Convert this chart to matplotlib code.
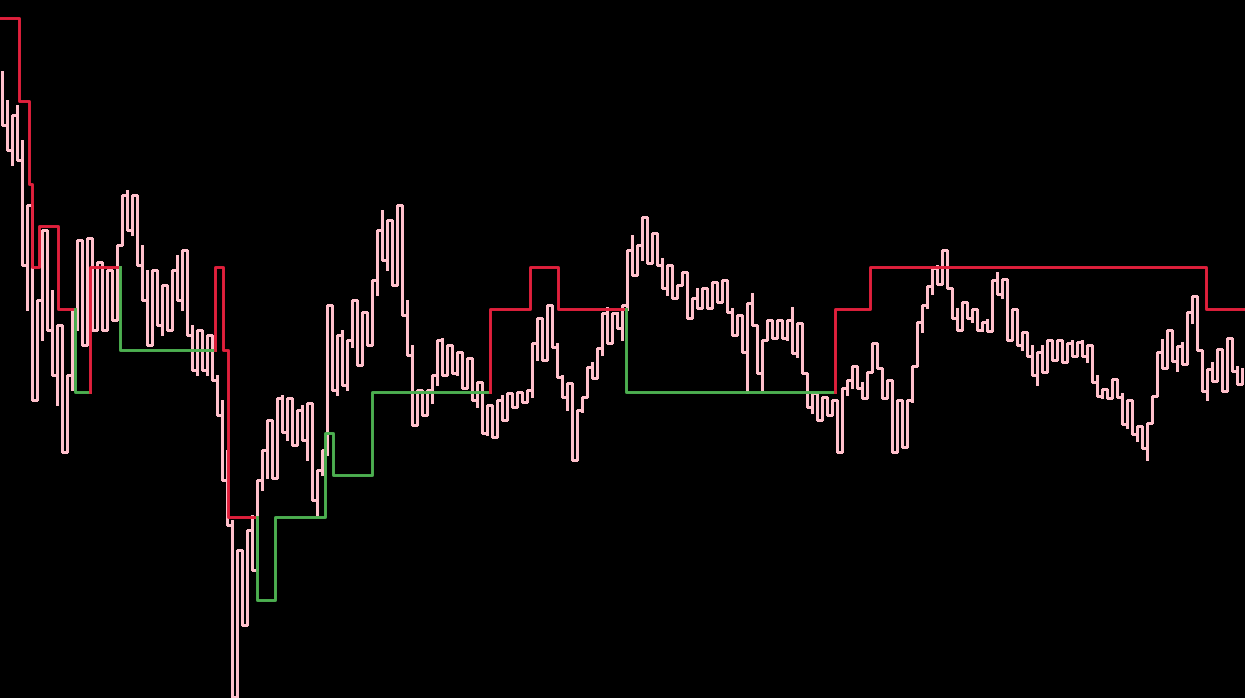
import numpy as np
import matplotlib
matplotlib.use("Agg")
import matplotlib.pyplot as plt

# bar ranges (value axis runs top-down)
bar_top = [72, 100, 115, 105, 140, 205, 300, 300, 230, 245,
           290, 325, 370, 375, 310, 240, 250, 238, 250, 262,
           265, 270, 275, 245, 195, 190, 195, 225, 245, 270,
           270, 275, 285, 290, 270, 255, 250, 290, 325, 330,
           330, 335, 335, 375, 400, 450, 520, 550, 553, 530,
           515, 480, 450, 420, 435, 398, 395, 398, 405, 410,
           405, 403, 455, 470, 450, 305, 330, 335, 330, 340,
           300, 335, 312, 315, 280, 230, 210, 220, 235, 205,
           245, 300, 345, 390, 392, 390, 375, 340, 338, 345,
           350, 352, 360, 358, 360, 382, 400, 405, 410, 400,
           395, 393, 393, 392, 393, 390, 343, 318, 335, 305,
           315, 343, 375, 383, 420, 410, 397, 367, 362, 348,
           313, 307, 313, 312, 305, 250, 235, 245, 217, 238,
           233, 240, 258, 265, 275, 285, 272, 298, 298, 288,
           288, 288, 282, 286, 280, 298, 308, 315, 322, 303,
           293, 337, 340, 320, 322, 320, 322, 320, 307, 323,
           340, 383, 393, 393, 397, 400, 400, 403, 388, 380,
           366, 368, 382, 372, 343, 352, 378, 380, 393, 400,
           418, 400, 366, 322, 305, 286, 268, 265, 250, 276,
           290, 308, 302, 302, 309, 312, 322, 319, 280, 272,
           279, 302, 309, 326, 332, 340, 345, 352, 345, 340,
           342, 340, 345, 343, 340, 342, 340, 345, 358, 375,
           389, 389, 379, 380, 393, 400, 419, 426, 432, 423,
           396, 352, 339, 330, 342, 346, 342, 312, 296, 318,
           356, 369, 362, 349, 369, 338, 356, 366, 369]
bar_bot = [125, 150, 165, 160, 265, 310, 400, 385, 340, 330,
           375, 405, 452, 420, 390, 330, 345, 310, 330, 310,
           330, 320, 320, 290, 245, 230, 235, 265, 300, 345,
           310, 325, 335, 330, 315, 300, 310, 335, 370, 375,
           370, 375, 380, 415, 480, 525, 697, 665, 625, 590,
           570, 525, 490, 478, 478, 440, 432, 440, 445, 432,
           440, 460, 500, 515, 475, 455, 390, 395, 385, 390,
           347, 365, 350, 345, 345, 295, 260, 270, 285, 265,
           315, 355, 425, 425, 415, 412, 403, 385, 375, 372,
           373, 375, 388, 385, 400, 407, 433, 435, 437, 425,
           420, 415, 407, 405, 402, 400, 397, 360, 360, 343,
           347, 377, 397, 410, 460, 445, 412, 395, 378, 370,
           355, 343, 337, 328, 340, 310, 275, 270, 260, 263,
           260, 265, 288, 295, 298, 298, 285, 318, 308, 308,
           298, 308, 305, 302, 302, 312, 335, 332, 352, 393,
           325, 373, 390, 335, 338, 332, 338, 340, 353, 357,
           373, 407, 413, 420, 412, 415, 412, 452, 402, 395,
           388, 388, 398, 392, 368, 368, 398, 395, 452, 440,
           447, 422, 402, 352, 332, 308, 294, 284, 281, 288,
           318, 330, 315, 318, 322, 330, 331, 331, 308, 294,
           298, 340, 332, 345, 350, 356, 375, 385, 372, 362,
           360, 358, 362, 358, 356, 354, 356, 362, 382, 396,
           398, 398, 394, 397, 424, 428, 434, 441, 448, 460,
           421, 381, 368, 358, 361, 371, 364, 364, 323, 350,
           391, 400, 381, 374, 391, 381, 371, 384, 384]

# stepped trailing level: start (in bars), level, trend side
lvl_start = [0, 3.9, 5.9, 6.5, 7.9, 11.7, 15.0, 18.1, 24.0, 43.0,
             44.6, 45.7, 51.5, 55.0, 65.1, 66.7, 74.5, 98.1, 106.1, 111.7,
             125.3, 167.0, 174.1, 241.3]
lvl_value = [18, 101, 184, 267, 226, 309, 392, 267, 350, 267,
             350, 517, 600, 517, 433, 475, 392, 309, 267, 309,
             392, 309, 267, 309]
lvl_side = ['dn', 'dn', 'dn', 'dn', 'dn', 'dn', 'up', 'dn', 'up', 'dn',
            'dn', 'dn', 'up', 'up', 'up', 'up', 'up', 'dn', 'dn', 'dn',
            'up', 'dn', 'dn', 'dn']

side_color = {'dn': '#e0203c', 'up': '#4caf50'}

n = len(bar_top)
fig = plt.figure(figsize=(12.45, 6.98), dpi=100, facecolor='black')
ax = fig.add_axes([0, 0, 1, 1])
ax.set_facecolor('black')

t = np.arange(n) + 0.5
ax.vlines(t, bar_top, bar_bot, color='pink', lw=0.75, antialiased=False, zorder=2)

# thin trace joining each bar to the next one
px, py = [], []
cur = bar_top[0]
for k in range(n):
    a, b = bar_top[k], bar_bot[k]
    if abs(b - cur) < abs(a - cur):
        a, b = b, a
    px += [t[k], t[k], t[k]]
    py += [cur, a, b]
    if k + 1 < n:
        px.append(t[k + 1])
        py.append(b)
    cur = b
ax.plot(px, py, color='pink', lw=0.75, antialiased=False, zorder=2)

t_end = lvl_start[1:] + [n]
i = 0
while i < len(lvl_start):
    j = i
    while j + 1 < len(lvl_start) and lvl_side[j + 1] == lvl_side[i]:
        j += 1
    xs, ys = [], []
    if i > 0:
        xs.append(lvl_start[i])
        ys.append(lvl_value[i - 1])
    for k in range(i, j + 1):
        xs += [lvl_start[k], t_end[k]]
        ys += [lvl_value[k], lvl_value[k]]
    ax.plot(xs, ys, color=side_color[lvl_side[i]], lw=2.1, zorder=3)
    i = j + 1

ax.set_xlim(0, n)
ax.set_ylim(698, 0)
ax.set_xticks([])
ax.set_yticks([])
for s in ax.spines.values():
    s.set_visible(False)

fig.savefig('out.png', dpi=100, facecolor='black')
